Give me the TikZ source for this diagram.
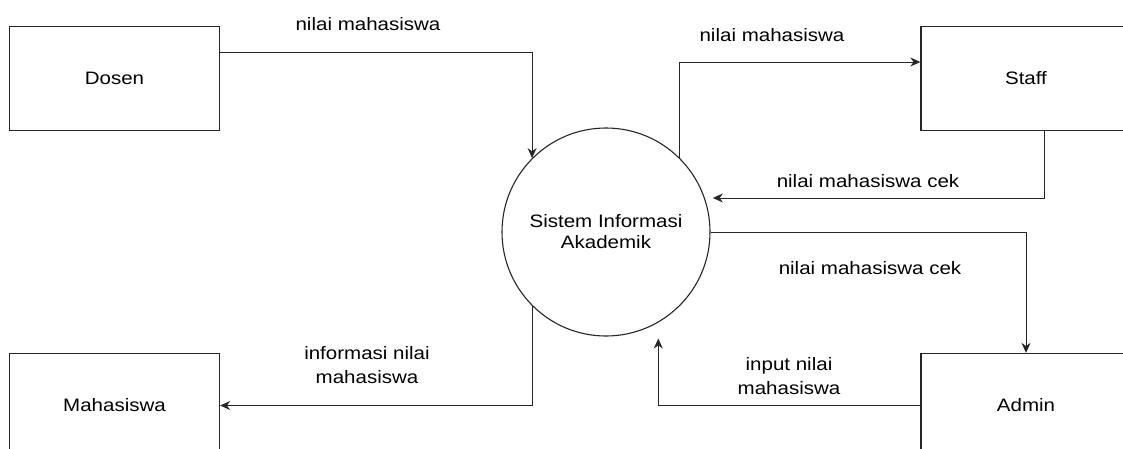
\documentclass[tikz,border=0pt]{standalone}
\usepackage{fontspec}
\setmainfont{Liberation Sans}
\usepackage{graphicx}
\usetikzlibrary{arrows.meta,calc}
% slightly widened lettering
\newcommand\wtext[1]{\scalebox{1.14}[1]{#1}}
\begin{document}
\begin{tikzpicture}[x=1pt,y=-1pt,
  every node/.style={font=\fontsize{18}{23.5}\selectfont},
  entity/.style={draw=black!85, line width=1.3pt, minimum width=210pt,
    minimum height=104pt, inner sep=0pt},
  process/.style={circle, draw=black!85, line width=1.1pt, minimum size=208pt,
    inner sep=0pt, align=center, font=\fontsize{18}{21}\selectfont},
  flow/.style={draw=black!85, line width=0.9pt, -{Stealth[length=10pt,width=9pt]}},
  lbl/.style={align=center}]
\useasboundingbox (0,0) rectangle (1123,448);
\clip (0,0) rectangle (1123,448);

% external entities
\node[entity] (dosen) at (114.5,78.5) {\wtext{Dosen}};
\node[entity] (staff) at (1026,78.5) {\wtext{Staff}};
\node[entity] (mahasiswa) at (114.5,405.5) {\wtext{Mahasiswa}};
\node[entity] (admin) at (1026,405.5) {\wtext{Admin}};

% the process
\node[process] (sia) at (606,232) {\wtext{Sistem Informasi}\\\wtext{Akademik}};

% data flows
\draw[flow] ([yshift=26.5pt]dosen.east) -| (sia.135);
\draw[flow] (sia.45) |- ([yshift=16.5pt]staff.west);
\draw[flow] ([xshift=18pt]staff.south) |- ($(sia.19)+(8,0)$);
\draw[flow] (sia.east) -| (admin.north);
\draw[flow] (admin.west) -| ($(sia.300)+(0,16)$);
\draw[flow] (sia.225) |- (mahasiswa.east);

% flow labels
\node[lbl] (l1) at (368,24) {\wtext{nilai mahasiswa}};
\node[lbl] (l2) at (772,35) {\wtext{nilai mahasiswa}};
\node[lbl] (l3) at (868,181) {\wtext{nilai mahasiswa cek}};
\node[lbl] (l4) at (870,268) {\wtext{nilai mahasiswa cek}};
\node[lbl] (l5) at (789,376) {\wtext{input nilai}\\\wtext{mahasiswa}};
\node[lbl] (l6) at (367,365) {\wtext{informasi nilai}\\\wtext{mahasiswa}};
\end{tikzpicture}
\end{document}
